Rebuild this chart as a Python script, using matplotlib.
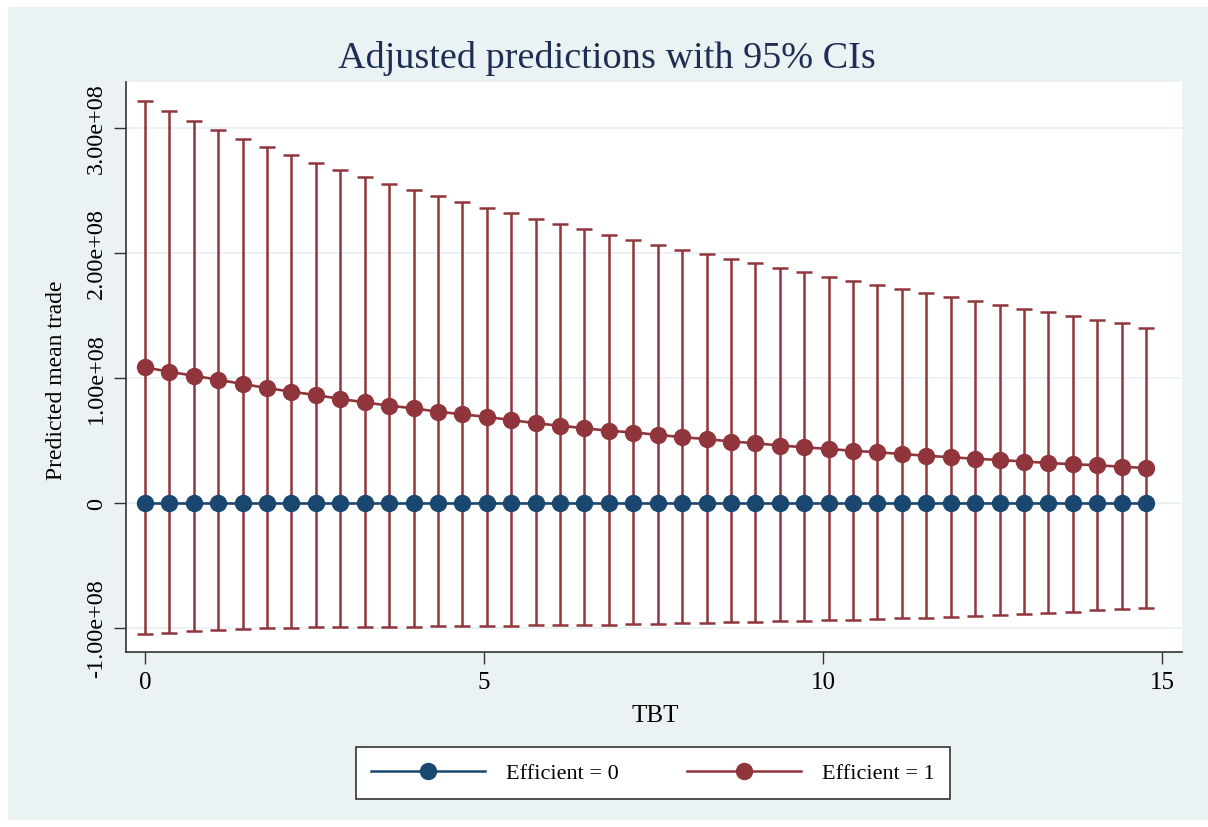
import matplotlib
matplotlib.use("Agg")
import matplotlib.pyplot as plt
from matplotlib.patches import Rectangle
from matplotlib.lines import Line2D

# ---- data (values in units of 1e8) ----
tbt = [0, 0.36, 0.72, 1.08, 1.44, 1.8, 2.16, 2.52, 2.88, 3.24, 3.6, 3.96, 4.32, 4.68,
       5.04, 5.4, 5.76, 6.12, 6.48, 6.84, 7.2, 7.56, 7.92, 8.28, 8.64, 9.0, 9.36, 9.72,
       10.08, 10.44, 10.8, 11.16, 11.52, 11.88, 12.24, 12.6, 12.96, 13.32, 13.68, 14.04,
       14.4, 14.76]

eff1_mean = [1.085, 1.050, 1.018, 0.986, 0.952, 0.920, 0.890, 0.864, 0.832, 0.806,
             0.778, 0.758, 0.730, 0.710, 0.688, 0.664, 0.638, 0.618, 0.598, 0.578,
             0.564, 0.546, 0.526, 0.512, 0.492, 0.478, 0.460, 0.446, 0.432, 0.418,
             0.406, 0.392, 0.378, 0.366, 0.354, 0.344, 0.332, 0.320, 0.310, 0.302,
             0.290, 0.280]
eff1_upper = [3.213, 3.134, 3.054, 2.982, 2.912, 2.845, 2.784, 2.722, 2.666, 2.608,
              2.554, 2.504, 2.454, 2.408, 2.362, 2.318, 2.274, 2.232, 2.190, 2.148,
              2.106, 2.064, 2.026, 1.990, 1.954, 1.918, 1.880, 1.846, 1.810, 1.776,
              1.744, 1.712, 1.678, 1.648, 1.616, 1.584, 1.554, 1.526, 1.496, 1.466,
              1.438, 1.402]
eff1_lower = [-1.048, -1.040, -1.026, -1.016, -1.008, -1.002, -0.998, -0.994, -0.994, -0.992,
              -0.990, -0.988, -0.986, -0.984, -0.982, -0.980, -0.978, -0.976, -0.974, -0.972,
              -0.970, -0.966, -0.962, -0.958, -0.954, -0.950, -0.946, -0.942, -0.938, -0.934,
              -0.928, -0.922, -0.917, -0.912, -0.904, -0.896, -0.888, -0.877, -0.869, -0.859,
              -0.850, -0.843]
eff0_mean = [0.0] * len(tbt)

y_ticks = [-1e8, 0, 1e8, 2e8, 3e8]
y_ticklabels = ["-1.00e+08", "0", "1.00e+08", "2.00e+08", "3.00e+08"]
x_ticks = [0, 5, 10, 15]
x_ticklabels = ["0", "5", "10", "15"]
legend_labels = ["Efficient = 0", "Efficient = 1"]
title = "Adjusted predictions with 95% CIs"

SCALE = 1e8
BLUE = "#1A476F"
RED = "#90353B"
BG = "#EAF2F3"

plt.rcParams["font.family"] = ["Liberation Serif", "DejaVu Serif"]

fig = plt.figure(figsize=(12.08, 8.28), dpi=100, facecolor="white")
W, H = 1208, 828
fig.patches.append(Rectangle((8 / W, 1 - 821 / H), 1 - 8 / W, (821 - 8) / H,
                             transform=fig.transFigure, facecolor=BG,
                             edgecolor="none", zorder=-10))

ax = fig.add_axes([126 / W, 1 - 653 / H, (1182 - 126) / W, (653 - 83) / H])
ax.set_facecolor("white")

m1 = [v * SCALE for v in eff1_mean]
lo = [v * SCALE for v in eff1_lower]
hi = [v * SCALE for v in eff1_upper]
m0 = [v * SCALE for v in eff0_mean]

ax.errorbar(tbt, m1, yerr=[[a - b for a, b in zip(m1, lo)], [b - a for a, b in zip(m1, hi)]],
            fmt="none", ecolor=RED, elinewidth=1.8, capsize=5.5, capthick=1.8, zorder=3)
ax.plot(tbt, m1, color=RED, lw=1.9, marker="o", ms=11.5, mec=RED, mfc=RED, zorder=4)
ax.plot(tbt, m0, color=BLUE, lw=1.9, marker="o", ms=11.5, mec=BLUE, mfc=BLUE, zorder=5)

ax.set_xlim(-0.28, 15.29)
ax.set_ylim(-1.192e8, 3.368e8)

ax.set_yticks(y_ticks)
ax.set_yticklabels(y_ticklabels, rotation=90, va="center", fontsize=17.5)
ax.set_xticks(x_ticks)
ax.set_xticklabels(x_ticklabels, fontsize=18)
ax.tick_params(axis="both", direction="out", length=8.6, width=1, color="#333333", pad=5)
ax.yaxis.grid(True, color=BG, lw=1.4, zorder=0)
ax.set_axisbelow(True)

for s in ["top", "right"]:
    ax.spines[s].set_visible(False)
for s in ["left", "bottom"]:
    ax.spines[s].set_color("#333333")
    ax.spines[s].set_linewidth(1.2)

fig.text(607 / W, 1 - 58 / H, title, ha="center", va="center", fontsize=27.5, color="#1E2D53")
fig.text(57 / W, 1 - 380 / H, "Predicted mean trade", rotation=90, ha="center", va="center",
         fontsize=17)
fig.text(655 / W, 1 - 716 / H, "TBT", ha="center", va="center", fontsize=18)

handles = [Line2D([], [], color=BLUE, lw=1.8, marker="o", ms=11.5),
           Line2D([], [], color=RED, lw=1.8, marker="o", ms=11.5)]
leg = fig.legend(handles, legend_labels, loc="center", bbox_to_anchor=(653 / W, 1 - 774 / H),
                 ncol=2, fontsize=16, frameon=True, fancybox=False, framealpha=1,
                 edgecolor="#333333", facecolor="white", handlelength=5.1,
                 handletextpad=0.95, columnspacing=3.1, borderpad=0.7, numpoints=1)
leg.get_frame().set_linewidth(1.2)

fig.savefig("out.png", dpi=100, facecolor="white")
